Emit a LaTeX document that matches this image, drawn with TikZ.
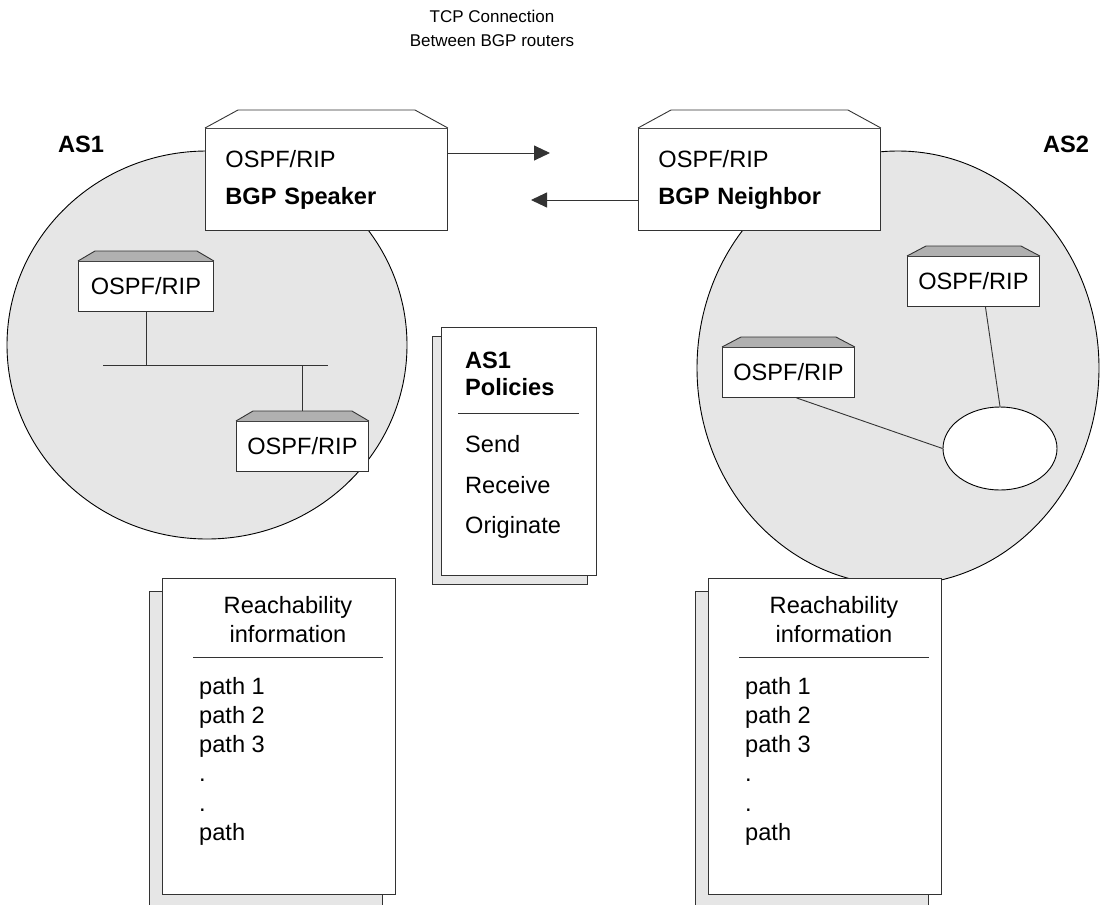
\documentclass[tikz,border=0pt]{standalone}
\usepackage{fontspec}
\setmainfont{Liberation Sans}
\usepackage{tikz}
\usetikzlibrary{shapes.geometric,arrows.meta}

\definecolor{areagray}{HTML}{E6E6E6}
\definecolor{lidgray}{HTML}{B0B0B0}
\definecolor{linegray}{HTML}{333333}

% lid on top of a router box: node, inset, height, fill
\newcommand{\routerlid}[4]{%
  \draw[line, fill=#4] (#1.north west) -- ([xshift=#2, yshift=#3]#1.north west)
    -- ([xshift=-#2, yshift=#3]#1.north east) -- (#1.north east);}

\begin{document}
\begin{tikzpicture}[
  x=1pt, y=-1pt,
  every node/.style={font=\fontsize{23.6}{28}\selectfont, inner sep=0pt},
  line/.style={draw=linegray, line width=0.9pt},
  area/.style={ellipse, draw=black, fill=areagray, line width=0.9pt},
  router/.style={draw=linegray, fill=white, line width=0.9pt, anchor=north west},
  bigrouter/.style={router, align=left, text width=202pt, inner xsep=20pt, minimum height=102pt},
  smallrouter/.style={router, minimum width=132pt, minimum height=50pt},
  hub/.style={ellipse, draw=black, fill=white, line width=0.9pt, minimum width=114pt, minimum height=83pt},
  page/.style={draw=linegray, fill=white, line width=0.9pt, anchor=north west},
  sheet/.style={draw=linegray, fill=areagray, line width=0.9pt},
  txt/.style={anchor=base west},
  tip/.style={-{Triangle[length=16pt, width=15pt]}}
]
\useasboundingbox (0,0) rectangle (1109,905);

\node[font=\fontsize{17}{24}\selectfont, align=center] (tcp) at (492,28) {TCP Connection\\Between BGP routers};

% autonomous systems
\node[area, minimum width=400pt, minimum height=388pt] (as1) at (207,345) {};
\node[area, minimum width=402pt, minimum height=434pt] (as2) at (898,368) {};
\node[font=\fontsize{23.6}{28}\selectfont\bfseries] (as1lab) at (81,144) {AS1};
\node[font=\fontsize{23.6}{28}\selectfont\bfseries] (as2lab) at (1066,144) {AS2};

% BGP routers
\node[bigrouter] (spk) at (205,128) {OSPF/RIP\\[9pt]\textbf{BGP Speaker}};
\node[bigrouter] (nbr) at (638,128) {OSPF/RIP\\[9pt]\textbf{BGP Neighbor}};
\routerlid{spk}{33pt}{18pt}{white}
\routerlid{nbr}{33pt}{18pt}{white}

\coordinate (tcpR) at (550,153);
\coordinate (tcpL) at (531,200);
\draw[line, tip, fill=black] (spk.east |- tcpR) -- (tcpR);
\draw[line, tip, fill=black] (nbr.west |- tcpL) -- (tcpL);

% inside AS1
\node[smallrouter, minimum width=135pt] (r1) at (78,261) {OSPF/RIP};
\node[smallrouter] (r2) at (236,421) {OSPF/RIP};
\routerlid{r1}{17pt}{10pt}{lidgray}
\routerlid{r2}{17pt}{10pt}{lidgray}
\coordinate (busL) at (103,365);
\coordinate (busR) at (328,365);
\draw[line] (busL) -- (busR);
\draw[line] (r1.south) -- (r1.south |- busL);
\draw[line] ([yshift=10pt]r2.north) -- (r2.north |- busL);

% inside AS2
\node[smallrouter] (r3) at (907,256) {OSPF/RIP};
\node[smallrouter] (r4) at (722,347) {OSPF/RIP};
\routerlid{r3}{19pt}{10pt}{lidgray}
\routerlid{r4}{19pt}{10pt}{lidgray}
\node[hub] (net) at (1000,448.5) {};
\draw[line] ([xshift=12pt]r3.south) -- (net.north);
\draw[line] ([xshift=8pt]r4.south) -- (net.west);

% policies
\draw[sheet] (432,336) rectangle (587,584);
\node[page, minimum width=155pt, minimum height=248pt] (pol) at (441,327) {};
\node[txt, font=\fontsize{23.6}{28}\selectfont\bfseries] (polA) at (465,368.5) {AS1};
\node[txt, font=\fontsize{23.6}{28}\selectfont\bfseries] (polB) at (465,395.5) {Policies};
\draw[line] (458,413) -- (579,413);
\node[txt] (send) at (465,452) {Send};
\node[txt] (recv) at (465,493) {Receive};
\node[txt] (orig) at (465,533.5) {Originate};

% reachability information
\foreach \nm/\x in {reachA/162, reachB/708} {
  \draw[sheet] (\x-13,591) rectangle (\x+220,907);
  \node[page, minimum width=233pt, minimum height=316pt] (\nm) at (\x,578) {};
  \node[anchor=base] (\nm-h1) at (\x+126,613.5) {Reachability};
  \node[anchor=base] (\nm-h2) at (\x+126,642) {information};
  \draw[line] (\x+31,657) -- (\x+221,657);
  \node[txt] (\nm-p1) at (\x+37,694) {path 1};
  \node[txt] (\nm-p2) at (\x+37,723.3) {path 2};
  \node[txt] (\nm-p3) at (\x+37,752.6) {path 3};
  \node[txt] (\nm-d1) at (\x+37,781.9) {.};
  \node[txt] (\nm-d2) at (\x+37,811.2) {.};
  \node[txt] (\nm-p4) at (\x+37,840.5) {path};
}
\end{tikzpicture}
\end{document}
